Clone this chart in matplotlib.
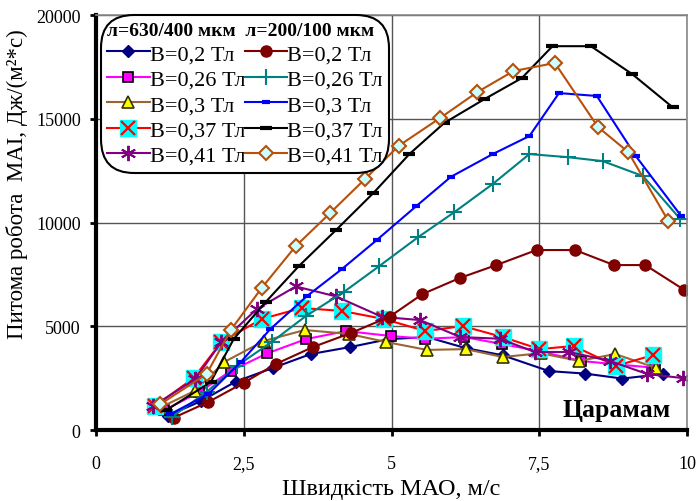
import matplotlib
matplotlib.use('Agg')
import matplotlib.pyplot as plt

plt.rcParams['font.family'] = ['Liberation Serif', 'DejaVu Serif']

# л=630/400 мкм
x1_02 = [1.21, 1.78, 2.36, 3.0, 3.63, 4.3, 4.95, 5.6, 6.25, 6.88, 7.66, 8.27, 8.9, 9.59]
y1_02 = [680, 1400, 2330, 3000, 3660, 4000, 4380, 4480, 3950, 3600, 2840, 2720, 2480, 2700]
x1_026 = [1.15, 1.75, 2.28, 2.9, 3.55, 4.23, 4.99, 5.57, 6.23, 6.86, 7.5, 8.2, 8.85, 9.45]
y1_026 = [950, 1830, 2850, 3700, 4380, 4770, 4530, 4400, 4480, 4150, 3800, 3330, 3150, 3000]
x1_03 = [1.1, 1.68, 2.17, 2.84, 3.53, 4.28, 4.91, 5.6, 6.25, 6.88, 7.52, 8.17, 8.78, 9.47]
y1_03 = [1100, 1900, 3280, 4290, 4820, 4630, 4240, 3860, 3900, 3520, 3700, 3330, 3660, 3000]
x1_037 = [1.0, 1.65, 2.12, 2.8, 3.48, 4.16, 4.87, 5.57, 6.2, 6.88, 7.5, 8.08, 8.79, 9.42]
y1_037 = [1160, 2500, 4240, 5350, 5880, 5740, 5350, 4770, 5010, 4480, 3900, 4050, 3090, 3610]
x1_041 = [0.97, 1.68, 2.12, 2.72, 3.38, 4.06, 4.84, 5.48, 6.16, 6.83, 7.42, 8.0, 8.69, 9.32, 9.93]
y1_041 = [1160, 2460, 4240, 5830, 6920, 6440, 5450, 5300, 4480, 4400, 3760, 3760, 3330, 2700, 2500]

# л=200/100 мкм
x2_02 = [1.32, 1.9, 2.5, 3.04, 3.67, 4.31, 4.97, 5.52, 6.15, 6.77, 7.45, 8.1, 8.76, 9.29, 9.95]
y2_02 = [600, 1350, 2280, 3180, 4000, 4675, 5470, 6550, 7325, 7950, 8675, 8675, 7950, 7950, 6750]
x2_026 = [1.28, 1.87, 2.38, 2.97, 3.55, 4.19, 4.79, 5.45, 6.06, 6.71, 7.33, 7.98, 8.57, 9.25, 9.88]
y2_026 = [627, 1830, 3085, 4240, 5495, 6650, 7900, 9300, 10500, 11860, 13300, 13150, 12960, 12240, 10170]
x2_03 = [1.26, 1.9, 2.45, 2.95, 3.57, 4.16, 4.75, 5.42, 6.0, 6.71, 7.33, 7.83, 8.47, 9.13, 9.9]
y2_03 = [770, 1735, 3280, 4870, 6460, 7760, 9160, 10800, 12200, 13300, 14170, 16240, 16100, 13200, 10300]
x2_037 = [1.19, 1.94, 2.33, 2.87, 3.43, 4.06, 4.69, 5.3, 5.89, 6.57, 7.2, 7.72, 8.37, 9.07, 9.75]
y2_037 = [960, 2310, 4390, 6170, 7900, 9640, 11420, 13300, 14800, 15950, 16960, 18500, 18500, 17150, 15560]
x2_041 = [1.09, 1.87, 2.28, 2.8, 3.38, 3.96, 4.55, 5.12, 5.82, 6.45, 7.06, 7.76, 8.49, 9.0, 9.68]
y2_041 = [1250, 2700, 4820, 6840, 8870, 10460, 12100, 13700, 15040, 16290, 17300, 17690, 14600, 13400, 10070]

xticks = [0, 2.5, 5, 7.5, 10]
xticklabels = ['0', '2,5', '5', '7,5', '10']
yticks = [0, 5000, 10000, 15000, 20000]
labels = ['B=0,2 Тл', 'B=0,26 Тл', 'B=0,3 Тл', 'B=0,37 Тл', 'B=0,41 Тл']

fig = plt.figure(figsize=(6.99, 5.02), dpi=100)
ax = fig.add_axes([0.1373, 0.1414, 0.846, 0.8266])

lw = 1.5
# 630/400
h_a1, = ax.plot(x1_02, y1_02, color='#000080', lw=lw, marker='D', ms=6, mfc='#000080', mec='#000080')
h_a2, = ax.plot(x1_026, y1_026, color='#FF00FF', lw=lw, marker='s', ms=7, mfc='#FF00FF', mec='black', mew=1.2)
h_a3, = ax.plot(x1_03, y1_03, color='#996633', lw=lw, marker='^', ms=8, mfc='#FFFF00', mec='#333300', mew=1.2)
h_a4a, = ax.plot(x1_037, y1_037, color='#FF0000', lw=lw, marker='s', ms=12, mfc='#00FFFF', mec='#00FFFF')
h_a4b, = ax.plot(x1_037, y1_037, ls='none', marker='x', ms=10, mec='#FF0000', mew=1.6)
h_a5, = ax.plot(x1_041, y1_041, color='#800080', lw=lw, marker=(6, 2, 0), ms=11, mec='#800080', mew=1.4)
# 200/100
h_b1, = ax.plot(x2_02, y2_02, color='#800000', lw=lw, marker='o', ms=8, mfc='#800000', mec='#800000')
h_b2, = ax.plot(x2_026, y2_026, color='#008080', lw=lw, marker='+', ms=11, mec='#008080', mew=1.5)
h_b3, = ax.plot(x2_03, y2_03, color='#0000FF', lw=lw, marker='_', ms=6, mec='#0000FF', mew=3)
h_b4, = ax.plot(x2_037, y2_037, color='black', lw=lw, marker='_', ms=9, mec='black', mew=3)
h_b5, = ax.plot(x2_041, y2_041, color='#B8500A', lw=lw, marker='D', ms=7, mfc='#CCFFFF', mec='#B8500A', mew=1.5)

ax.set_xlim(0, 10)
ax.set_ylim(0, 20000)
ax.set_xticks(xticks)
ax.set_xticklabels(xticklabels)
ax.set_yticks(yticks)
ax.tick_params(direction='out', length=4, width=2, labelsize=13)
ax.tick_params(axis='x', pad=14)
ax.tick_params(axis='y', pad=7)
ax.grid(True, color='#555555', lw=1)
ax.set_axisbelow(True)
for s in ['left', 'bottom']:
    ax.spines[s].set_linewidth(3)
for s in ['top', 'right']:
    ax.spines[s].set_color('#888888')
    ax.spines[s].set_linewidth(1.2)

ax.set_xlabel('Швидкість МАО, м/с', fontsize=17.5, labelpad=4)
ax.set_ylabel('Питома робота  МАІ, Дж/(м²*с)', fontsize=16.5)
ax.yaxis.set_label_coords(-0.115, 0.595)

ax.text(8.8, 1000, 'Царамам', fontsize=18.5, fontweight='bold', ha='center', va='center')

handles = [h_a1, h_a2, h_a3, (h_a4a, h_a4b), h_a5, h_b1, h_b2, h_b3, h_b4, h_b5]
leg = ax.legend(handles, labels + labels, ncol=2, loc='upper left',
                bbox_to_anchor=(0.008, 1.0), borderaxespad=0, fontsize=16,
                title='л=630/400 мкм  л=200/100 мкм', alignment='left',
                title_fontproperties={'weight': 'bold', 'size': 14},
                handlelength=1.9, handletextpad=0.0, columnspacing=0.0,
                labelspacing=0.22, borderpad=0.3, frameon=True, fancybox=True,
                framealpha=1, edgecolor='black')
leg.get_frame().set_linewidth(1.5)
leg.get_frame().set_boxstyle('round,pad=0,rounding_size=1.5')

fig.savefig('out.png', dpi=100)
